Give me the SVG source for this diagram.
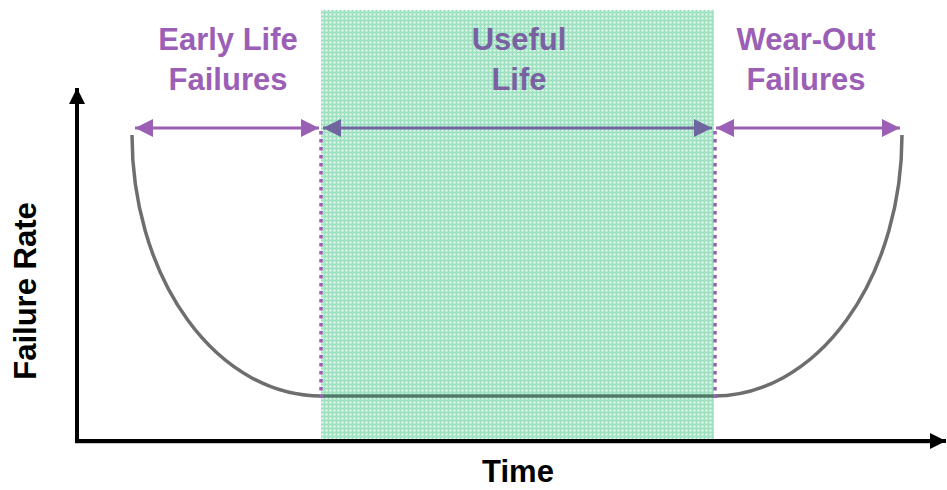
<svg xmlns="http://www.w3.org/2000/svg" width="947" height="490" viewBox="0 0 947 490">
<style>
.lbl{font-family:"Liberation Sans",Arial,sans-serif;font-weight:bold;font-size:31px;text-anchor:middle}
.purple{fill:#9b5fb6}
.muted{fill:#7a62a2}
.axis{font-family:"Liberation Sans",Arial,sans-serif;font-weight:bold;font-size:31px;fill:#000;text-anchor:middle}
.curve{fill:none;stroke:#6e6e6e;stroke-width:3.5}
.dots{stroke:#9b5fb6;stroke-width:3.5;stroke-dasharray:3.5 4.5}
</style>
<defs>
<pattern id="grid" width="4" height="4" patternUnits="userSpaceOnUse">
<rect width="4" height="4" fill="#b6ecd2"/>
<rect x="0" y="0" width="4" height="1" fill="#9fe0c0"/>
<rect x="0" y="0" width="1" height="4" fill="#9fe0c0"/>
<rect x="2" y="2" width="1" height="1" fill="#ffffff"/>
</pattern>
<marker id="ahp" viewBox="0 0 10 10" refX="10" refY="5" markerWidth="6" markerHeight="6" orient="auto-start-reverse" markerUnits="strokeWidth">
<path d="M0,0 L10,5 L0,10 z" fill="#9b5fb6"/>
</marker>
<marker id="ahm" viewBox="0 0 10 10" refX="10" refY="5" markerWidth="6" markerHeight="6" orient="auto-start-reverse" markerUnits="strokeWidth">
<path d="M0,0 L10,5 L0,10 z" fill="#6f659f"/>
</marker>
<marker id="ahk" viewBox="0 0 10 10" refX="10" refY="5" markerWidth="4" markerHeight="4" orient="auto" markerUnits="strokeWidth">
<path d="M0,0 L10,5 L0,10 z" fill="#000"/>
</marker>
</defs>
<rect width="947" height="490" fill="#fff"/>
<g id="useful-life-zone">
<rect x="321" y="10" width="393" height="432" fill="url(#grid)"/>
</g>
<g id="axes">
<line x1="77" y1="444" x2="77" y2="88" stroke="#000" stroke-width="4" marker-end="url(#ahk)"/>
<line x1="75" y1="443" x2="935" y2="443" stroke="#c8c8c8" stroke-width="2"/>
<line x1="75" y1="441" x2="946" y2="441" stroke="#000" stroke-width="4" marker-end="url(#ahk)"/>
<text class="axis" transform="translate(36,291) rotate(-90)">Failure Rate</text>
<text class="axis" x="518" y="482">Time</text>
</g>
<g id="curve">
<path class="curve" d="M132,135 A189,261 0 0 0 321,396"/>
<path class="curve" d="M714,396 A188,261 0 0 0 902,135"/>
<line x1="321" y1="396" x2="714" y2="396" stroke="#4f7c68" stroke-width="3.5"/>
</g>
<g id="boundaries">
<line class="dots" x1="321" y1="131" x2="321" y2="398"/>
<line class="dots" x1="715" y1="131" x2="715" y2="398"/>
</g>
<g id="connectors">
<line x1="135" y1="128" x2="319" y2="128" stroke="#9b5fb6" stroke-width="3" marker-start="url(#ahp)" marker-end="url(#ahp)"/>
<line x1="323" y1="128" x2="712" y2="128" stroke="#6f659f" stroke-width="3" marker-start="url(#ahm)" marker-end="url(#ahm)"/>
<line x1="716" y1="128" x2="900" y2="128" stroke="#9b5fb6" stroke-width="3" marker-start="url(#ahp)" marker-end="url(#ahp)"/>
</g>
<g id="early-life">
<text class="lbl purple" x="228" y="50">Early Life</text>
<text class="lbl purple" x="228" y="90">Failures</text>
</g>
<g id="useful-life">
<text class="lbl muted" x="519" y="50">Useful</text>
<text class="lbl muted" x="519" y="90">Life</text>
</g>
<g id="wear-out">
<text class="lbl purple" x="806" y="50">Wear-Out</text>
<text class="lbl purple" x="806" y="90">Failures</text>
</g>
</svg>
